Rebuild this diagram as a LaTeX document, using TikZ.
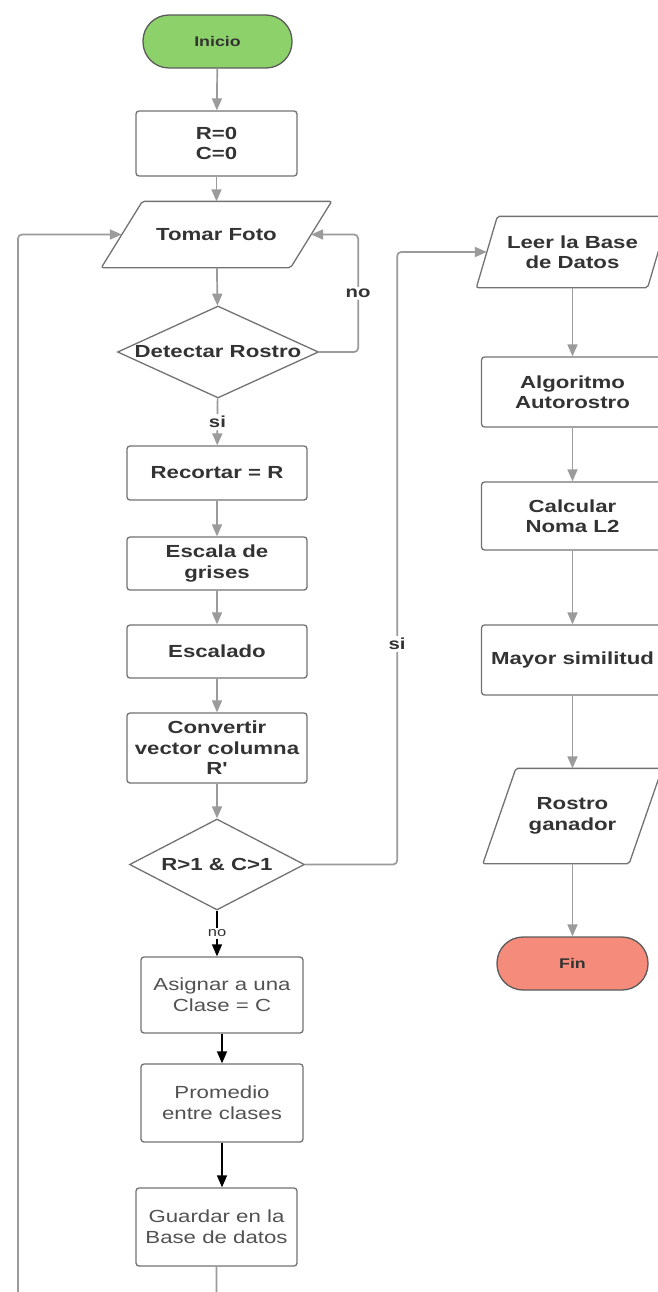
\documentclass[tikz,border=0pt]{standalone}
\usepackage{fontspec}
\newfontfamily\arial{Liberation Sans}[FakeStretch=1.27]
\usepackage{tikz}
\usetikzlibrary{arrows.meta,shapes,positioning}
\definecolor{linea}{HTML}{9B9B9B}
\definecolor{borde}{HTML}{727272}
\definecolor{texto}{HTML}{333333}
\definecolor{verde}{HTML}{8DD16B}
\definecolor{salmon}{HTML}{F48B7B}
\tikzstyle{marco}   =[draw=borde, line width=1.3pt]
\tikzstyle{base}    =[marco, fill=white, text=texto, align=center,
                      font=\arial\bfseries\fontsize{17.5}{20.5}\selectfont]
\tikzstyle{caja}    =[base, rectangle, rounded corners=3pt, inner sep=2pt]
\tikzstyle{normal}  =[font=\arial\fontsize{17.5}{21}\selectfont, text=texto!85]
\tikzstyle{decision}=[base, diamond, inner sep=0pt]
\tikzstyle{terminal}=[base, rectangle, rounded corners=26pt, draw=borde!80!black,
                      font=\arial\bfseries\fontsize{14}{16}\selectfont]
\tikzstyle{flecha}  =[draw=linea, line width=1.7pt, rounded corners=4pt,
                      -{Triangle[length=12pt,width=10pt]}]
\tikzstyle{negra}   =[draw=black, line width=1.5pt,
                      -{Triangle[length=12pt,width=10pt]}]
\tikzstyle{etiqueta}=[fill=white, inner sep=2pt, text=texto,
                      font=\arial\bfseries\fontsize{16}{18}\selectfont]
% paralelogramo: #1 = media inclinacion
\tikzset{datos/.style={base, rectangle, draw=none, fill=none, inner sep=2pt,
    append after command={\pgfextra{\let\nodo\tikzlastnode
      \draw[marco, rounded corners=2pt]
        ([xshift=-#1]\nodo.south west) -- ([xshift=#1]\nodo.north west)
        -- ([xshift=#1]\nodo.north east) -- ([xshift=-#1]\nodo.south east) -- cycle;}}}}

\begin{document}
\begin{tikzpicture}[x=1pt, y=1pt, on grid]
    \path[use as bounding box, fill=white] (0,0) rectangle (657,-1292);
    % columna izquierda
    \node (inicio) [terminal, fill=verde, minimum width=149pt, minimum height=53pt]
        at (217.5,-41.5) {Inicio};
    \node (init) [caja, minimum width=161pt, minimum height=65pt,
        below=102pt of inicio, xshift=-1pt] {R=0\\C=0};
    \node (foto) [datos=20.5pt, minimum width=188pt, minimum height=65pt,
        below=91pt of init] {Tomar Foto};
    \node (detectar) [decision, aspect=2.18, minimum width=201pt, minimum height=92pt,
        below=117.5pt of foto, xshift=1.5pt] {Detectar Rostro};
    \node (recortar) [caja, minimum width=180pt, minimum height=54pt,
        below=121pt of detectar, xshift=-1pt] {Recortar = R};
    \node (grises) [caja, minimum width=180pt, minimum height=53pt,
        below=90.5pt of recortar] {Escala de\\grises};
    \node (escalado) [caja, minimum width=180pt, minimum height=53pt,
        below=88pt of grises] {Escalado};
    \node (convertir) [caja, minimum width=180pt, minimum height=70pt,
        below=96.5pt of escalado] {Convertir\\vector columna\\R'};
    \node (condicion) [decision, aspect=1.92, minimum width=175pt, minimum height=91pt,
        below=116.5pt of convertir] {R>1 \& C>1};
    \node (asignar) [caja, normal, minimum width=162pt, minimum height=76pt,
        below=130.5pt of condicion, xshift=5pt] {Asignar a una\\Clase = C};
    \node (promedio) [caja, normal, minimum width=162pt, minimum height=78pt,
        below=108pt of asignar] {Promedio\\entre clases};
    \node (guardar) [caja, normal, minimum width=161pt, minimum height=78pt,
        below=124pt of promedio, xshift=-5.5pt] {Guardar en la\\Base de datos};
    \coordinate (abajo) at (18,-1330);
    % columna derecha
    \node (leer) [datos=10.5pt, minimum width=170pt, minimum height=70pt]
        at (572.5,-252) {Leer la Base\\de Datos};
    \node (algoritmo) [caja, minimum width=182pt, minimum height=70pt,
        below=140pt of leer] {Algoritmo\\Autorostro};
    \node (norma) [caja, minimum width=182pt, minimum height=68pt,
        below=124pt of algoritmo] {Calcular\\Noma L2};
    \node (similitud) [caja, minimum width=182pt, minimum height=70pt,
        below=144pt of norma] {Mayor similitud};
    \node (ganador) [datos=16.5pt, minimum width=145pt, minimum height=94pt,
        below=156pt of similitud] {Rostro\\ganador};
    \node (fin) [terminal, fill=salmon, minimum width=151pt, minimum height=53pt,
        below=147.5pt of ganador] {Fin};

    \draw[flecha] (inicio) -- (init);
    \draw[flecha] (init) -- (foto);
    \draw[flecha] (foto) -- (detectar);
    \draw[flecha] (detectar.east) -- ++(39,0) |- node[etiqueta, pos=0.25] {no} (foto.east);
    \draw[flecha] (detectar) -- node[etiqueta] {si} (recortar);
    \draw[flecha] (recortar) -- (grises);
    \draw[flecha] (grises) -- (escalado);
    \draw[flecha] (escalado) -- (convertir);
    \draw[flecha] (convertir) -- (condicion);
    \draw[flecha] (condicion.east) -- ++(92,0) |- node[etiqueta, pos=0.18] {si} (leer.west);
    \draw[negra] (condicion.south) -- node[etiqueta, font=\arial\fontsize{13}{15}\selectfont] {no}
        (condicion.south |- asignar.north);
    \draw[negra] (asignar) -- (promedio);
    \draw[negra] (promedio.south) -- (promedio.south |- guardar.north);
    \draw[flecha] (guardar.south) |- (abajo) |- (foto.west);
    \draw[flecha] (leer) -- (algoritmo);
    \draw[flecha] (algoritmo) -- (norma);
    \draw[flecha] (norma) -- (similitud);
    \draw[flecha] (similitud) -- (ganador);
    \draw[flecha] (ganador) -- (fin);
\end{tikzpicture}
\end{document}
